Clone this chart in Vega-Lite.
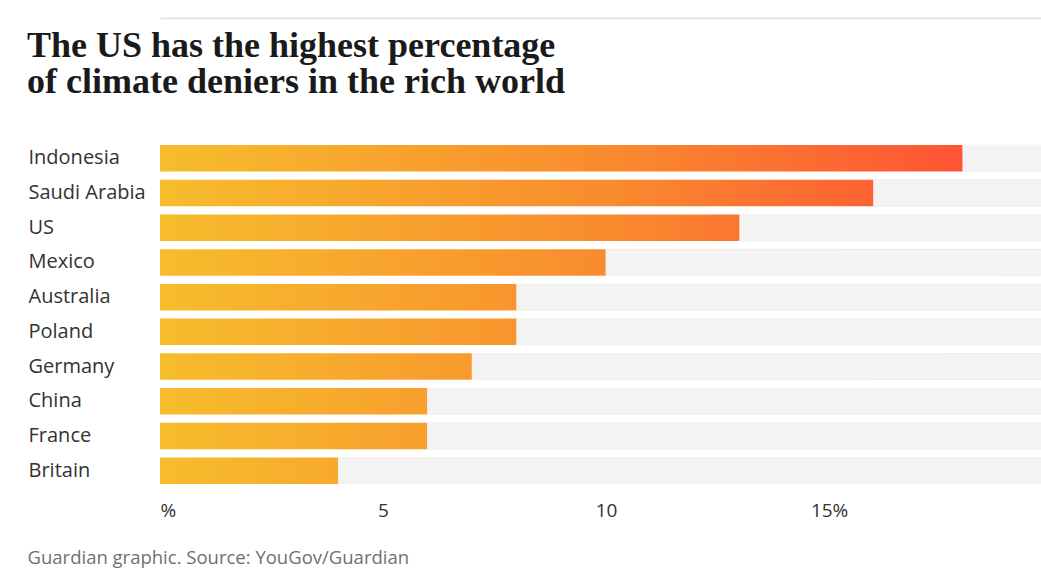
{
  "$schema": "https://vega.github.io/schema/vega-lite/v6.json",
  "width": 881,
  "height": 347,
  "autosize": {"type": "none"},
  "padding": {"left": 160, "top": 141, "right": 0, "bottom": 86},
  "background": "#ffffff",
  "title": {
    "text": ["The US has the highest percentage", "of climate deniers in the rich world"],
    "anchor": "start",
    "frame": "group",
    "font": "Liberation Serif",
    "fontWeight": "bold",
    "fontSize": 36,
    "lineHeight": 36,
    "color": "#1a1a1a",
    "dx": -133,
    "offset": 0,
    "dy": 83
  },
  "data": {
    "values": [
      {"country": "Indonesia", "pct": 18},
      {"country": "Saudi Arabia", "pct": 16},
      {"country": "US", "pct": 13},
      {"country": "Mexico", "pct": 10},
      {"country": "Australia", "pct": 8},
      {"country": "Poland", "pct": 8},
      {"country": "Germany", "pct": 7},
      {"country": "China", "pct": 6},
      {"country": "France", "pct": 6},
      {"country": "Britain", "pct": 4}
    ]
  },
  "encoding": {
    "y": {
      "field": "country",
      "type": "nominal",
      "sort": null,
      "scale": {"paddingInner": 0.236, "paddingOuter": 0.118},
      "axis": {
        "title": null,
        "domain": false,
        "ticks": false,
        "tickSize": 0,
        "labelAlign": "left",
        "labelPadding": 132,
        "labelFont": "Open Sans",
        "labelFontSize": 20,
        "labelColor": "#333333",
        "labelBaseline": "middle"
      }
    }
  },
  "layer": [
    {
      "mark": {
        "type": "bar",
        "color": {
          "gradient": "linear",
          "x1": 0, "x2": 1, "y1": 0, "y2": 0,
          "stops": [
            {"offset": 0, "color": "#f6bd2c"},
            {"offset": 0.5, "color": "#f98c2e"},
            {"offset": 1, "color": "#ff4836"}
          ]
        }
      },
      "encoding": {
        "x": {
          "datum": 0,
          "type": "quantitative",
          "scale": {"domain": [0, 19.75], "nice": false},
          "axis": {
            "values": [0, 5, 10, 15],
            "labelExpr": "datum.value == 0 ? '%' : datum.value == 15 ? '15%' : datum.label",
            "labelFlush": true,
            "grid": false,
            "domain": false,
            "ticks": false,
            "tickSize": 0,
            "labelPadding": 13,
            "labelFont": "Open Sans",
            "labelFontSize": 19,
            "labelColor": "#333333",
            "title": "Guardian graphic. Source: YouGov/Guardian",
            "titleFont": "Open Sans",
            "titleFontSize": 18.5,
            "titleFontWeight": "normal",
            "titleColor": "#707070",
            "titleAnchor": "start",
            "titleAlign": "left",
            "titleBaseline": "alphabetic",
            "titleX": -133,
            "titleY": 75
          }
        },
        "x2": {"datum": 19.75}
      }
    },
    {
      "mark": {"type": "bar", "color": "#f3f3f3", "stroke": "#f3f3f3", "strokeWidth": 1},
      "encoding": {
        "x": {
          "field": "pct",
          "type": "quantitative",
          "axis": {
            "orient": "top",
            "labels": false,
            "ticks": false,
            "grid": false,
            "title": null,
            "domain": true,
            "domainColor": "#dddddd",
            "domainWidth": 1.5,
            "offset": 123
          }
        },
        "x2": {"datum": 19.75}
      }
    }
  ],
  "resolve": {"axis": {"x": "independent"}},
  "config": {"view": {"stroke": null}}
}
